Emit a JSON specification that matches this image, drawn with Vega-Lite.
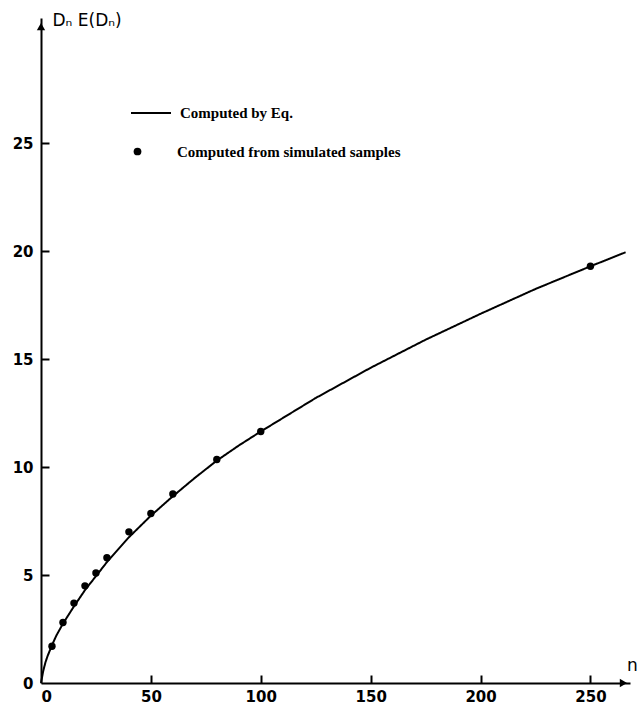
{
  "$schema": "https://vega.github.io/schema/vega-lite/v6.json",
  "autosize": "none",
  "padding": {"left": 41, "top": 18, "right": 8, "bottom": 21},
  "width": 589,
  "height": 665,
  "background": "white",
  "config": {
    "view": {"stroke": null},
    "axis": {
      "domainColor": "black", "domainWidth": 2, "ticks": false,
      "labelColor": "black", "labelFont": "DejaVu Sans", "labelFontWeight": "bold", "labelFontSize": 15,
      "titleColor": "black", "titleFont": "DejaVu Sans", "titleFontWeight": "normal", "titleFontSize": 17,
      "grid": false
    },
    "legend": {
      "labelFont": "Liberation Serif", "labelFontWeight": "bold", "labelFontSize": 15, "labelColor": "black",
      "labelLimit": 400, "padding": 0
    }
  },
  "resolve": {"axis": {"x": "independent", "y": "independent"}},
  "datasets": {
    "curve": [
      {"n": 0, "d": 0}, {"n": 1, "d": 0.55}, {"n": 2, "d": 0.95}, {"n": 3, "d": 1.25},
      {"n": 5, "d": 1.75}, {"n": 7, "d": 2.2}, {"n": 10, "d": 2.75}, {"n": 15, "d": 3.55},
      {"n": 20, "d": 4.3}, {"n": 25, "d": 4.95}, {"n": 30, "d": 5.6}, {"n": 40, "d": 6.75},
      {"n": 50, "d": 7.75}, {"n": 60, "d": 8.65}, {"n": 70, "d": 9.5}, {"n": 80, "d": 10.3},
      {"n": 90, "d": 11.0}, {"n": 100, "d": 11.65}, {"n": 125, "d": 13.2}, {"n": 150, "d": 14.6},
      {"n": 175, "d": 15.9}, {"n": 200, "d": 17.1}, {"n": 225, "d": 18.25}, {"n": 250, "d": 19.3},
      {"n": 266, "d": 19.95}
    ],
    "samples": [
      {"n": 5, "d": 1.7, "series": "Computed from simulated samples"},
      {"n": 10, "d": 2.8, "series": "Computed from simulated samples"},
      {"n": 15, "d": 3.7, "series": "Computed from simulated samples"},
      {"n": 20, "d": 4.5, "series": "Computed from simulated samples"},
      {"n": 25, "d": 5.1, "series": "Computed from simulated samples"},
      {"n": 30, "d": 5.8, "series": "Computed from simulated samples"},
      {"n": 40, "d": 7.0, "series": "Computed from simulated samples"},
      {"n": 50, "d": 7.85, "series": "Computed from simulated samples"},
      {"n": 60, "d": 8.75, "series": "Computed from simulated samples"},
      {"n": 80, "d": 10.35, "series": "Computed from simulated samples"},
      {"n": 100, "d": 11.65, "series": "Computed from simulated samples"},
      {"n": 250, "d": 19.3, "series": "Computed from simulated samples"}
    ]
  },
  "layer": [
    {
      "data": {"name": "curve"},
      "mark": {"type": "line", "color": "black", "strokeWidth": 2},
      "encoding": {
        "x": {"field": "n", "type": "quantitative",
          "scale": {"domain": [0, 268], "nice": false, "zero": true},
          "axis": {"orient": "bottom", "values": [0, 50, 100, 150, 200, 250], "labelPadding": 6,
            "title": "n", "titleAngle": 0, "titleAlign": "center", "titleBaseline": "middle",
            "titleX": 591, "titleY": -18}},
        "y": {"field": "d", "type": "quantitative",
          "scale": {"domain": [0, 30.8], "nice": false},
          "axis": {"orient": "left", "values": [0, 5, 10, 15, 20, 25], "labelPadding": 8,
            "title": "Dₙ  E(Dₙ)", "titleAngle": 0, "titleAlign": "left", "titleBaseline": "middle",
            "titleX": 11, "titleY": 2}},
        "strokeDash": {"datum": "Computed by Eq.", "type": "nominal",
          "scale": {"range": [[1, 0]]},
          "legend": {"title": null, "orient": "none", "legendX": 89, "legendY": 74,
            "symbolType": "stroke", "symbolSize": 1600, "symbolStrokeWidth": 2, "symbolStrokeColor": "black",
            "labelOffset": 8}}
      }
    },
    {
      "data": {"name": "samples"},
      "mark": {"type": "point", "filled": true, "color": "black", "opacity": 1, "size": 55},
      "encoding": {
        "x": {"field": "n", "type": "quantitative",
          "axis": {"orient": "top", "values": [50, 100, 150, 200, 250], "offset": -665, "domain": false, "labels": false,
            "ticks": true, "tickSize": 8, "tickWidth": 2, "tickColor": "black", "title": null}},
        "y": {"field": "d", "type": "quantitative",
          "axis": {"orient": "right", "values": [5, 10, 15, 20, 25], "offset": -589, "domain": false, "labels": false,
            "ticks": true, "tickSize": 8, "tickWidth": 2, "tickColor": "black", "title": null}},
        "shape": {"field": "series", "type": "nominal",
          "scale": {"range": ["circle"]},
          "legend": {"title": null, "orient": "none", "legendX": 89, "legendY": 126,
            "symbolSize": 60, "symbolFillColor": "black", "labelOffset": 32}}
      }
    },
    {
      "data": {"values": [{}]},
      "mark": {"type": "point", "filled": true, "color": "black", "opacity": 1, "shape": "triangle-right", "size": 70},
      "encoding": {"x": {"datum": 265, "axis": null}, "y": {"datum": 0, "axis": null}}
    },
    {
      "data": {"values": [{}]},
      "mark": {"type": "point", "filled": true, "color": "black", "opacity": 1, "shape": "triangle-up", "size": 70},
      "encoding": {"x": {"datum": 0, "axis": null}, "y": {"datum": 30.4, "axis": null}}
    }
  ]
}
